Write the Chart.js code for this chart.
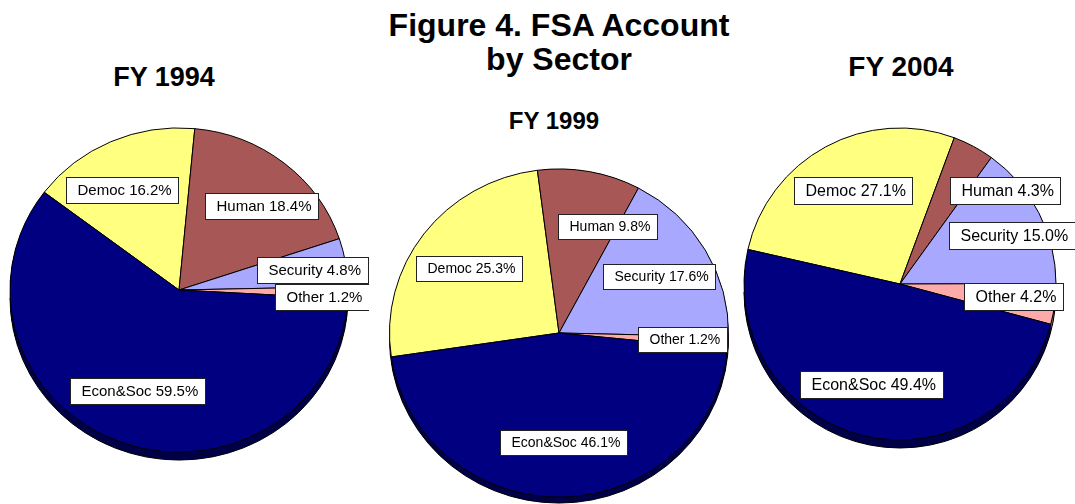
<!DOCTYPE html>
<html>
<head>
<meta charset="utf-8">
<script src="https://cdn.jsdelivr.net/npm/chart.js@4.4.0/dist/chart.umd.min.js"></script>
<style>
body{margin:0;width:1075px;height:504px;overflow:hidden;background:#fff;position:relative;font-family:"Liberation Sans",Arial,sans-serif}
.t{position:absolute;font-weight:bold;color:#000;text-align:center;white-space:nowrap}
.pie{position:absolute}
</style>
</head>
<body>
<div class="t" style="left:359px;top:8px;width:400px;font-size:32px;line-height:34px">Figure 4. FSA Account<br>by Sector</div>
<div class="t" id="title0" style="left:64px;top:61px;width:200px;font-size:27px;line-height:32px"></div>
<div class="t" id="title1" style="left:454px;top:107px;width:200px;font-size:24px;line-height:28px"></div>
<div class="t" id="title2" style="left:801px;top:51px;width:200px;font-size:28px;line-height:32px"></div>

<div class="pie" style="left:-11px;top:115px;width:380px;height:350px"><canvas id="pie0"></canvas></div>
<div class="pie" style="left:379px;top:162px;width:360px;height:342px"><canvas id="pie1"></canvas></div>
<div class="pie" style="left:725px;top:114px;width:350px;height:340px"><canvas id="pie2"></canvas></div>

<script>
let years = ["FY 1994", "FY 1999", "FY 2004"];
let sectors = ["Democ", "Human", "Security", "Other", "Econ&Soc"];
let shares1994 = [16.2, 18.4, 4.8, 1.2, 59.5];
let shares1999 = [25.3, 9.8, 17.6, 1.2, 46.1];
let shares2004 = [27.1, 4.3, 15.0, 4.2, 49.4];
let sectorColors = ["#FFFF80", "#A85757", "#A8A8FF", "#FFAAAA", "#000080"];
let sideColors = ["#8C8C40", "#5C2E2E", "#5C5C8C", "#8C5C5C", "#00004A"];

// layout per pie: radius, vertical squash, side depth, start angle, label placement
let pieLayout = [
  { radius:169, squash:0.959, depth:8, rotation:-52.9, font:15,
    frac:[0.70,0.71,0.80,0.85,0.67], shift:[-4.9,4.9,0.8,1.8,1.6] },
  { radius:169.5, squash:0.968, depth:6, rotation:-98.4, font:14,
    frac:[0.66,0.71,0.68,0.73,0.67], shift:[-0.4,13.2,0.1,-0.6,-0.7] },
  { radius:156, squash:1, depth:8, rotation:-77.2, font:16,
    frac:[0.67,0.90,0.78,0.73,0.67], shift:[1.9,20.4,3.6,-0.9,1.7] }
];

const pie3d = {
  id:'pie3d',
  beforeDatasetsDraw(chart, args, o) {
    let arcs = chart.getDatasetMeta(0).data, ctx = chart.ctx;
    let {x, y, outerRadius} = arcs[0].getProps(['x','y','outerRadius'], true);
    ctx.save();
    ctx.translate(x, y); ctx.scale(1, o.squash); ctx.translate(-x, -y);
    let d = o.depth / o.squash;
    arcs.forEach((a, i) => {
      let p = a.getProps(['x','y','startAngle','endAngle','outerRadius'], true);
      ctx.fillStyle = sideColors[i];
      for (let k = d; k > 0; k -= 0.5) {
        ctx.beginPath(); ctx.moveTo(p.x, p.y + k);
        ctx.arc(p.x, p.y + k, p.outerRadius, p.startAngle, p.endAngle);
        ctx.closePath(); ctx.fill();
      }
    });
    ctx.beginPath();
    ctx.arc(x, y + d, outerRadius, 0, Math.PI);
    ctx.strokeStyle = '#000'; ctx.lineWidth = 1; ctx.stroke();
  },
  afterDatasetsDraw(chart, args, o) {
    let ctx = chart.ctx;
    ctx.restore();
    let arcs = chart.getDatasetMeta(0).data, vals = chart.data.datasets[0].data;
    ctx.save();
    ctx.font = o.font + 'px "Liberation Sans", Arial, sans-serif';
    ctx.textBaseline = 'middle';
    arcs.forEach((a, i) => {
      let p = a.getProps(['x','y','startAngle','endAngle','outerRadius'], true);
      let mid = (p.startAngle + p.endAngle) / 2 + o.shift[i] * Math.PI / 180;
      let r = p.outerRadius * o.frac[i];
      let lx = p.x + Math.cos(mid) * r, ly = p.y + Math.sin(mid) * r * o.squash;
      let txt = chart.data.labels[i] + ' ' + vals[i].toFixed(1) + '%';
      let w = Math.round(ctx.measureText(txt).width + 18), h = Math.round(o.font + 11);
      let bx = Math.round(lx - w / 2) + 0.5, by = Math.round(ly - h / 2) + 0.5;
      ctx.fillStyle = '#fff'; ctx.fillRect(bx, by, w, h);
      ctx.strokeStyle = '#222'; ctx.lineWidth = 1; ctx.strokeRect(bx, by, w, h);
      ctx.fillStyle = '#000'; ctx.textAlign = 'left';
      ctx.fillText(txt, bx + 11, by + h / 2 + 0.5);
    });
    ctx.restore();
  }
};

function drawPie(idx, values) {
  let L = pieLayout[idx];
  document.getElementById('title' + idx).textContent = years[idx];
  new Chart(document.getElementById('pie' + idx), {
    type: 'pie',
    data: { labels: sectors, datasets: [{ data: values, backgroundColor: sectorColors,
      borderColor: '#000', borderWidth: 1, radius: L.radius }] },
    options: {
      responsive: true, maintainAspectRatio: false, animation: false, events: [],
      rotation: L.rotation,
      layout: { padding: 0 },
      plugins: { legend: { display: false }, tooltip: { enabled: false },
        pie3d: { squash: L.squash, depth: L.depth, font: L.font, frac: L.frac, shift: L.shift } }
    },
    plugins: [pie3d]
  });
}

drawPie(0, shares1994);
drawPie(1, shares1999);
drawPie(2, shares2004);
</script>
</body>
</html>
